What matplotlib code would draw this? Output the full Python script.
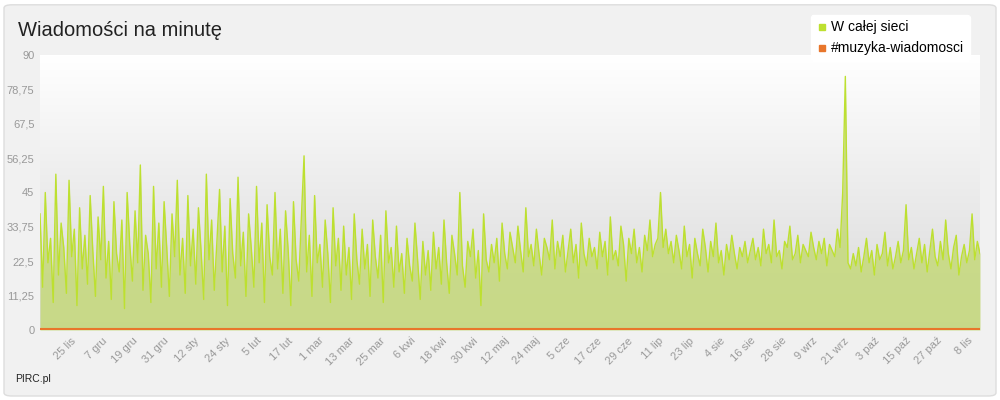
import matplotlib
matplotlib.use("Agg")
import matplotlib.pyplot as plt
import numpy as np
import pandas as pd
from matplotlib.patches import FancyBboxPatch
from matplotlib.colors import LinearSegmentedColormap

plt.rcParams['font.family'] = ['Liberation Sans', 'DejaVu Sans']

all_net = [38,14,45,22,30,9,51,18,35,27,12,49,24,33,8,40,20,31,15,44,26,11,37,23,47,17,29,10,42,25,
19,36,7,45,28,16,39,22,54,13,31,25,9,47,20,35,14,42,27,11,38,24,49,18,30,12,44,21,33,15,
40,26,10,51,23,36,13,29,46,19,34,8,43,25,17,50,21,32,11,38,27,14,47,22,35,9,41,24,18,45,
20,33,12,39,26,8,42,23,16,37,57,19,31,11,44,22,28,14,36,25,9,40,21,30,13,34,18,27,10,38,
23,15,33,20,28,11,36,24,17,31,9,39,22,27,14,34,19,25,12,30,21,16,35,23,10,29,18,26,13,32,
20,27,15,36,22,12,31,25,18,45,21,14,29,24,33,17,26,8,38,23,19,28,22,30,16,35,25,20,32,27,
22,34,26,19,40,24,28,21,33,25,18,30,27,23,36,20,29,24,31,19,26,33,22,28,17,35,25,21,30,24,
27,20,32,24,29,18,37,23,26,21,34,28,16,30,25,33,22,27,19,31,26,36,24,28,30,45,27,33,25,29,
22,31,26,20,34,24,28,17,30,25,21,33,27,19,29,24,35,22,26,18,28,23,31,25,20,27,24,29,22,26,
30,23,27,21,33,25,28,22,36,24,26,20,29,27,34,23,25,31,22,28,26,24,32,27,23,29,25,30,21,28,
26,24,33,27,45,83,22,20,25,21,27,19,24,30,22,26,18,28,23,25,32,21,27,20,24,29,22,26,41,23,
27,20,25,30,22,28,19,26,33,24,21,29,23,36,25,20,27,31,18,24,28,22,26,38,23,29,25]
channel = [0.3] * len(all_net)
start, end = "2011-11-13", "2012-11-12"
tick_labels = ["25 lis","7 gru","19 gru","31 gru","12 sty","24 sty","5 lut","17 lut","1 mar","13 mar",
"25 mar","6 kwi","18 kwi","30 kwi","12 maj","24 maj","5 cze","17 cze","29 cze","11 lip","23 lip",
"4 sie","16 sie","28 sie","9 wrz","21 wrz","3 paź","15 paź","27 paź","8 lis"]
tick_dates = pd.date_range("2011-11-25", periods=len(tick_labels), freq="12D")
yticks = [0, 11.25, 22.5, 33.75, 45, 56.25, 67.5, 78.75, 90]

dates = pd.date_range(start, end, periods=len(all_net))

fig = plt.figure(figsize=(10, 4), dpi=100)
fig.patch.set_facecolor("white")
bg = FancyBboxPatch((0.004, 0.01), 0.992, 0.978, boxstyle="round,pad=0,rounding_size=0.008",
                    transform=fig.transFigure, facecolor="#f1f1f1", edgecolor="#dddddd", lw=1, zorder=-10)
fig.patches.append(bg)

ax = fig.add_axes([0.04, 0.175, 0.94, 0.6875])
ax.set_zorder(1)
ax.set_xlim(dates[0], dates[-1])
ax.set_ylim(0, 90)
grad = np.linspace(0, 1, 256).reshape(-1, 1)
cm = LinearSegmentedColormap.from_list("g", ["#d8d8d8", "#ffffff"])
x0, x1 = ax.get_xlim()
ax.imshow(grad, aspect="auto", cmap=cm, extent=[x0, x1, 0, 90], zorder=0, origin="lower")
ax.fill_between(dates, all_net, color="#c5d97a", alpha=0.85, lw=0, zorder=1)
ax.plot(dates, all_net, color="#bde030", lw=1, zorder=2)
ax.plot(dates, channel, color="#e8762b", lw=1.5, zorder=3)
ax.set_xlim(x0, x1)
ax.set_ylim(0, 90)
for s in ax.spines.values():
    s.set_visible(False)
ax.set_yticks(yticks)
ax.set_yticklabels([("%g" % v).replace(".", ",") for v in yticks], color="#999999", fontsize=8)
ax.set_xticks(tick_dates)
ax.set_xticklabels(tick_labels, rotation=45, ha="right", color="#999999", fontsize=8, rotation_mode="anchor")
ax.tick_params(length=0, pad=4)
ax.grid(False)

fig.text(0.018, 0.925, "Wiadomości na minutę", fontsize=14.5, color="#222222", va="center")
fig.text(0.015, 0.045, "PIRC.pl", fontsize=7.5, color="#222222")
lg = fig.legend(handles=[plt.Line2D([], [], marker="s", ls="", color="#bde030", ms=4),
                         plt.Line2D([], [], marker="s", ls="", color="#e8762b", ms=4)],
                labels=["W całej sieci", "#muzyka-wiadomosci"], loc="upper right",
                bbox_to_anchor=(0.977, 0.98), fontsize=10, frameon=True, handletextpad=0.3,
                labelspacing=0.5, borderpad=0.4, handlelength=0.8)
lg.get_frame().set_edgecolor("white"); lg.get_frame().set_facecolor("white"); lg.get_frame().set_alpha(1)
fig.savefig("out.png", dpi=100)
